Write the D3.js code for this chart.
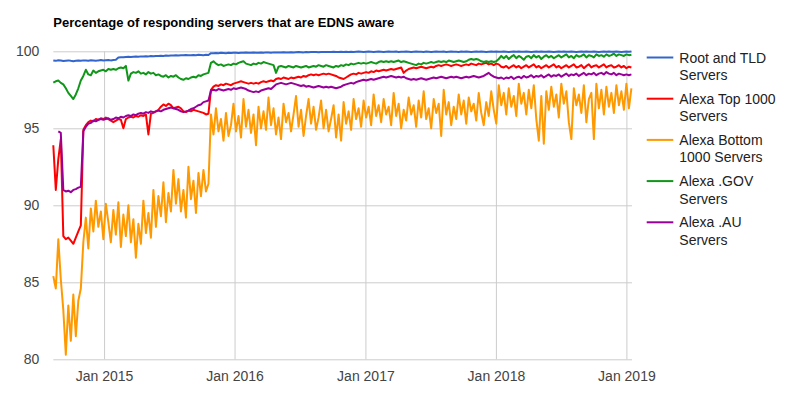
<!DOCTYPE html>
<html>
<head>
<meta charset="UTF-8">
<title>EDNS aware servers</title>
<script src="https://d3js.org/d3.v7.min.js"></script>
<style>
  body { margin: 0; background: #fff; }
  svg text { font-family: Arial, "Liberation Sans", sans-serif; }
</style>
</head>
<body>
<div id="chart"></div>
<script>
// weekly samples starting 12 Aug 2014
const startDate = Date.UTC(2014, 7, 12);

const seriesNames = ["Root and TLD Servers", "Alexa Top 1000 Servers", "Alexa Bottom 1000 Servers", "Alexa .GOV Servers", "Alexa .AU Servers"];
const legendLines = [["Root and TLD", "Servers"], ["Alexa Top 1000", "Servers"], ["Alexa Bottom", "1000 Servers"], ["Alexa .GOV", "Servers"], ["Alexa .AU", "Servers"]];
const colors = ["#3366cc", "#ff0000", "#ff9900", "#109618", "#990099"];
const yTicks = [80, 85, 90, 95, 100];
const xTickYears = [2015, 2016, 2017, 2018, 2019];

const rootTld = [
  99.40, 99.38, 99.42, 99.40, 99.37, 99.39, 99.41, 99.38, 99.36, 99.39,
  99.40, 99.38, 99.41, 99.40, 99.39, 99.42, 99.40, 99.38, 99.41, 99.43,
  99.40, 99.42, 99.44, 99.41, 99.43, 99.45, 99.60, 99.62, 99.61, 99.63,
  99.64, 99.63, 99.65, 99.66, 99.64, 99.67, 99.66, 99.68, 99.67, 99.69,
  99.68, 99.70, 99.69, 99.71, 99.70, 99.72, 99.71, 99.73, 99.72, 99.74,
  99.73, 99.75, 99.74, 99.76, 99.75, 99.74, 99.76, 99.75, 99.77, 99.76,
  99.75, 99.77, 99.76, 99.88, 99.87, 99.89, 99.88, 99.90, 99.89, 99.88,
  99.90, 99.89, 99.91, 99.90, 99.89, 99.91, 99.90, 99.92, 99.91, 99.90,
  99.92, 99.91, 99.90, 99.92, 99.91, 99.93, 99.92, 99.91, 99.93, 99.92,
  99.93, 99.92, 99.94, 99.93, 99.92, 99.94, 99.93, 99.94, 99.95, 99.94,
  99.93, 99.95, 99.94, 99.95, 99.96, 99.95, 99.94, 99.96, 99.95, 99.96,
  99.95, 99.96, 99.97, 99.96, 99.95, 99.97, 99.96, 99.97, 99.96, 99.97,
  99.96, 99.97, 99.98, 99.97, 99.96, 99.97, 99.98, 99.97, 99.96, 99.97,
  99.98, 99.97, 99.96, 99.97, 99.98, 99.97, 99.97, 99.98, 99.96, 99.97,
  99.97, 99.98, 99.97, 99.96, 99.97, 99.98, 99.97, 99.97, 99.96, 99.98,
  99.97, 99.96, 99.97, 99.98, 99.97, 99.97, 99.98, 99.96, 99.97, 99.98,
  99.97, 99.97, 99.96, 99.98, 99.97, 99.98, 99.97, 99.96, 99.97, 99.98,
  99.97, 99.98, 99.97, 99.96, 99.97, 99.98, 99.97, 99.98, 99.97, 99.97,
  99.98, 99.97, 99.96, 99.97, 99.98, 99.97, 99.98, 99.97, 99.97, 99.98,
  99.97, 99.96, 99.97, 99.98, 99.97, 99.98, 99.97, 99.97, 99.98, 99.97,
  99.96, 99.97, 99.98, 99.97, 99.98, 99.97, 99.97, 99.98, 99.97, 99.96,
  99.97, 99.98, 99.97, 99.98, 99.97, 99.97, 99.98, 99.97, 99.96, 99.97,
  99.98, 99.97, 99.98, 99.97, 99.97, 99.98, 99.97, 99.96, 99.97, 99.98,
  99.97, 99.98
];

const alexaTop = [
  93.9, 91.0, 93.0, 94.3, 88.0, 87.8, 87.9, 87.7, 87.5, 87.9,
  88.3, 88.7, 94.9, 95.2, 95.4, 95.5, 95.45, 95.6, 95.55, 95.65,
  95.6, 95.7, 95.6, 95.5, 95.4, 95.5, 95.6, 95.55, 95.0, 95.6,
  95.7, 95.75, 95.7, 95.8, 95.75, 95.85, 95.8, 95.9, 94.6, 95.95,
  96.0, 96.1, 96.2, 96.4, 96.55, 96.45, 96.6, 96.5, 96.3, 96.35,
  96.4, 96.3, 96.1, 96.05, 96.15, 96.1, 96.2, 96.15, 96.1, 96.05,
  96.0, 95.9, 95.95, 97.5, 97.7, 97.8, 97.75, 97.85, 97.8, 97.9,
  97.85, 97.8, 97.9, 97.95, 98.0, 98.05, 98.0, 97.95, 97.9, 97.95,
  97.9, 97.95, 97.9, 98.0, 98.05, 98.0, 98.05, 98.1, 98.05, 98.2,
  98.25, 98.2, 98.3, 98.25, 98.2, 98.3, 98.25, 98.3, 98.35, 98.3,
  98.4, 98.35, 98.45, 98.5, 98.45, 98.5, 98.45, 98.5, 98.55, 98.5,
  98.55, 98.5, 98.45, 98.4, 98.3, 98.25, 98.2, 98.3, 98.4, 98.5,
  98.55, 98.5, 98.6, 98.55, 98.6, 98.65, 98.6, 98.7, 98.65, 98.75,
  98.7, 98.75, 98.8, 98.75, 98.8, 98.85, 98.8, 98.85, 98.9, 98.95,
  98.6, 98.75, 98.85, 98.9, 98.95, 98.9, 98.95, 99.0, 98.95, 98.9,
  98.95, 99.0, 98.95, 99.05, 99.1, 99.05, 99.1, 99.15, 99.1, 99.05,
  99.1, 99.15, 99.1, 99.05, 99.1, 99.15, 99.1, 99.2, 99.15, 99.1,
  99.2, 99.15, 99.2, 99.25, 99.15, 99.2, 99.1, 99.2, 99.15, 99.0,
  98.95, 99.05, 98.9, 99.0, 99.1, 98.95, 99.05, 98.9, 99.0, 99.1,
  98.95, 99.05, 99.15, 98.95, 99.05, 98.9, 99.0, 99.1, 98.95, 99.05,
  99.15, 98.95, 99.05, 98.9, 99.0, 99.1, 98.95, 99.05, 99.15, 98.95,
  99.0, 99.1, 98.9, 99.05, 99.15, 98.95, 99.05, 99.1, 98.95, 99.05,
  99.15, 98.95, 99.05, 99.1, 98.95, 99.0, 99.1, 98.95, 99.05, 98.9,
  99.0, 98.95
];

const alexaBottom = [
  85.4, 84.6, 87.8, 85.2, 83.2, 80.3, 83.5, 81.2, 84.2, 81.5,
  83.8, 84.6, 87.6, 89.2, 87.2, 89.8, 88.3, 90.3, 88.6, 89.6,
  87.8, 90.1, 88.9, 87.6, 89.7, 88.1, 90.2, 87.3, 89.4, 88.0,
  90.0, 87.6, 89.1, 86.6, 88.8, 87.5, 90.3, 88.2, 89.5, 87.9,
  91.0, 88.6, 90.6, 89.3, 91.5, 88.9, 90.8, 89.6, 92.3, 90.1,
  91.7, 89.6, 91.0, 89.2, 92.5, 90.4, 91.6, 89.5, 92.1, 90.6,
  92.3, 90.9, 91.4, 95.9, 94.6, 96.3, 94.8, 95.6, 94.2, 96.0,
  94.5, 95.2, 96.6, 94.8, 95.8, 94.4, 96.9, 95.1, 96.2, 94.7,
  95.9, 93.9, 96.4, 95.0, 96.1, 94.9, 97.0, 95.2, 96.3, 94.6,
  95.7, 94.3, 96.6, 95.4, 96.0, 94.8, 95.9, 97.1, 95.1, 96.2,
  94.5, 95.8, 96.9, 95.3, 96.4, 94.9, 95.7, 96.8, 95.0, 96.2,
  94.8, 95.6, 96.5, 94.4, 95.9, 94.2, 96.7, 95.3, 96.1, 94.9,
  96.9, 95.6, 96.3, 95.1, 96.8, 95.7, 96.4, 95.2, 97.2, 95.8,
  96.5, 95.4, 96.9, 95.9, 96.4, 95.2, 97.3, 95.8, 96.6, 95.0,
  96.2, 95.5, 97.0, 95.9, 96.5, 95.1, 96.8, 95.7, 97.4, 95.6,
  96.3, 95.0, 96.9, 96.0, 96.6, 94.5, 97.5, 95.9, 96.7, 95.2,
  96.4, 95.6, 97.2, 95.9, 96.8, 95.3, 97.0, 96.1, 96.6, 95.5,
  97.3, 96.0, 95.2, 96.7, 95.8, 97.4, 96.2, 95.3, 97.8, 96.5,
  97.3, 95.9, 97.6, 96.4, 97.1, 95.8, 97.9, 96.6, 97.3, 95.9,
  97.5, 96.3, 97.8, 95.6, 94.2, 97.1, 94.0, 97.4, 96.2, 97.7,
  96.4, 97.2, 95.7, 97.9, 96.6, 97.4, 95.4, 94.3, 97.6, 96.5,
  97.2, 96.0, 97.8, 95.4, 96.9, 97.3, 94.3, 97.9, 96.3, 97.5,
  95.9, 97.7, 96.4, 97.3, 96.0, 97.8, 96.5, 97.4, 96.2, 97.9,
  96.3, 97.6
];

const alexaGov = [
  97.96, 98.05, 98.1, 97.95, 97.85, 97.6, 97.3, 97.1, 96.9, 97.2,
  97.6, 98.1, 98.4, 98.8, 98.5, 98.45, 98.75, 98.6, 98.7, 98.75,
  98.8, 98.7, 98.85, 98.8, 98.85, 98.8, 98.9, 98.95, 98.9, 99.05,
  98.1, 98.55, 98.65, 98.6, 98.7, 98.55, 98.6, 98.5, 98.65, 98.55,
  98.6, 98.45, 98.5, 98.4, 98.35, 98.45, 98.3, 98.4, 98.35, 98.45,
  98.3, 98.2, 98.15, 98.25, 98.2, 98.3, 98.35, 98.3, 98.45, 98.4,
  98.5, 98.55, 98.6, 99.25, 99.35, 99.2, 99.1, 99.15, 99.05, 99.1,
  99.15, 99.1, 99.2, 99.15, 99.25, 99.3, 99.35, 99.2, 99.15, 99.1,
  99.2, 99.15, 99.25, 99.2, 99.3, 99.25, 99.2, 99.15, 99.1, 98.6,
  99.0, 99.05, 99.0, 98.95, 99.05, 99.0, 98.95, 99.05, 99.0, 98.95,
  99.0, 99.05, 98.95, 99.0, 99.05, 99.0, 99.1, 99.05, 99.0, 99.1,
  99.05, 99.0, 98.95, 99.05, 99.0, 99.1, 99.05, 99.15, 99.1, 99.2,
  99.15, 99.2, 99.25, 99.2, 99.25, 99.2, 99.25, 99.3, 99.25, 99.2,
  99.3, 99.35, 99.3, 99.35, 99.3, 99.35, 99.3, 99.35, 99.4, 99.3,
  99.35, 99.3, 99.25, 99.2, 99.15, 99.1, 99.2, 99.15, 99.25, 99.2,
  99.25, 99.3, 99.25, 99.3, 99.35, 99.3, 99.35, 99.3, 99.4, 99.35,
  99.3, 99.35, 99.4, 99.35, 99.3, 99.35, 99.45, 99.5, 99.45, 99.5,
  99.45, 99.35, 99.3, 99.35, 99.3, 99.35, 99.3, 99.35, 99.5, 99.7,
  99.55, 99.7, 99.5, 99.65, 99.75, 99.55, 99.7, 99.6, 99.45, 99.65,
  99.7, 99.55, 99.75, 99.6, 99.7, 99.5, 99.65, 99.75, 99.6, 99.7,
  99.55, 99.65, 99.75, 99.6, 99.7, 99.8, 99.6, 99.7, 99.55, 99.75,
  99.65, 99.7, 99.8, 99.6, 99.75, 99.7, 99.6, 99.8, 99.7, 99.75,
  99.65, 99.8, 99.7, 99.75, 99.85, 99.7, 99.8, 99.75, 99.7, 99.8,
  99.75, 99.78
];

const alexaAu = [
  null, null, 94.8, 94.7, 91.0, 90.9, 90.95, 90.85, 91.0, 91.05,
  91.15, 91.2, 94.8, 95.1, 95.3, 95.35, 95.5, 95.45, 95.55, 95.6,
  95.55, 95.6, 95.65, 95.55, 95.6, 95.7, 95.65, 95.75, 95.7, 95.8,
  95.85, 95.8, 95.9, 95.85, 95.95, 96.0, 95.95, 96.05, 96.0, 96.1,
  96.05, 96.1, 96.15, 96.1, 96.2, 96.25, 96.3, 96.35, 96.3, 96.25,
  96.2, 96.1, 96.05, 96.1, 96.15, 96.25, 96.3, 96.4, 96.5, 96.55,
  96.7, 96.75, 96.8, 97.45, 97.5, 97.45, 97.55, 97.5, 97.45, 97.5,
  97.55, 97.5, 97.6, 97.55, 97.6, 97.65, 97.6, 97.55, 97.45, 97.4,
  97.35, 97.4, 97.35, 97.45, 97.5, 97.55, 97.6, 97.55, 97.7, 97.85,
  97.9, 97.95, 97.9, 97.85, 97.9, 97.95, 97.9, 97.85, 97.8, 97.75,
  97.8, 97.7, 97.75, 97.7, 97.65, 97.7, 97.75, 97.7, 97.65, 97.7,
  97.65, 97.7, 97.65, 97.6, 97.65, 97.7, 97.8, 97.85, 97.9, 97.95,
  97.9, 98.0, 98.05, 98.1, 98.15, 98.1, 98.15, 98.2, 98.15, 98.2,
  98.25, 98.3, 98.35, 98.3, 98.35, 98.4, 98.35, 98.3, 98.35, 98.3,
  98.35, 98.25, 98.2, 98.15, 98.2, 98.15, 98.2, 98.25, 98.2, 98.15,
  98.2, 98.25, 98.3, 98.25, 98.3, 98.35, 98.3, 98.25, 98.3, 98.35,
  98.3, 98.35, 98.3, 98.25, 98.3, 98.35, 98.3, 98.35, 98.4, 98.35,
  98.3, 98.35, 98.4, 98.5, 98.6, 98.45, 98.35, 98.3, 98.25, 98.3,
  98.2, 98.3, 98.25, 98.35, 98.2, 98.3, 98.35, 98.25, 98.4, 98.3,
  98.35, 98.45, 98.3, 98.4, 98.35, 98.45, 98.3, 98.4, 98.5, 98.35,
  98.45, 98.4, 98.5, 98.35, 98.45, 98.55, 98.4, 98.5, 98.45, 98.55,
  98.4, 98.5, 98.6, 98.45, 98.55, 98.5, 98.6, 98.45, 98.55, 98.6,
  98.5, 98.65, 98.55, 98.5, 98.6, 98.45, 98.55, 98.5, 98.45, 98.5,
  98.45, 98.5
];

const allSeries = [rootTld, alexaTop, alexaBottom, alexaGov, alexaAu];

const width = 786, height = 399;
const margin = { top: 51.3, right: 154.6, bottom: 39.7, left: 53.3 };

const dates = d3.utcDay.range(new Date(startDate), new Date(Date.UTC(2019, 0, 20)), 7).slice(0, rootTld.length);

const svg = d3.select("#chart").append("svg")
  .attr("width", width)
  .attr("height", height);

const x = d3.scaleUtc()
  .domain([dates[0], dates[dates.length - 1]])
  .range([margin.left, width - margin.right]);

const y = d3.scaleLinear()
  .domain([80, 100])
  .range([height - margin.bottom, margin.top]);

// title
svg.append("text")
  .attr("x", 53.3)
  .attr("y", 26.5)
  .attr("font-size", 13)
  .attr("font-weight", "bold")
  .attr("fill", "#000")
  .text("Percentage of responding servers that are EDNS aware");

// horizontal grid + y labels
const yAxis = svg.append("g")
  .attr("transform", `translate(${margin.left},0)`)
  .call(d3.axisLeft(y).tickValues(yTicks).tickSize(-(width - margin.left - margin.right + 0.6)).tickPadding(14).tickFormat(d3.format("d")));
yAxis.select(".domain").remove();
yAxis.selectAll("line").attr("stroke", "#cccccc");
yAxis.selectAll("text").attr("font-size", 14).attr("fill", "#444").attr("font-family", null);

// vertical grid + x labels
const xTicks = xTickYears.map(yr => new Date(Date.UTC(yr, 0, 1)));
const xAxis = svg.append("g")
  .attr("transform", `translate(0,${height - margin.bottom})`)
  .call(d3.axisBottom(x).tickValues(xTicks).tickSize(-(height - margin.top - margin.bottom)).tickPadding(12).tickFormat(d3.utcFormat("%b %Y")));
xAxis.select(".domain").remove();
xAxis.selectAll("line").attr("stroke", "#cccccc");
xAxis.selectAll("text").attr("font-size", 14).attr("fill", "#444").attr("font-family", null);

// lines
const line = d3.line()
  .defined(d => d.v != null)
  .x(d => x(d.date))
  .y(d => y(d.v));

allSeries.forEach((vals, k) => {
  const pts = vals.map((v, i) => ({ date: dates[i], v: v }));
  svg.append("path")
    .datum(pts)
    .attr("fill", "none")
    .attr("stroke", colors[k])
    .attr("stroke-width", 2)
    .attr("stroke-linejoin", "round")
    .attr("d", line);
});

// legend
const legend = svg.append("g");
legendLines.forEach((lines, k) => {
  const ly = 57.5 + k * 41.2;
  legend.append("line")
    .attr("x1", 646.7).attr("x2", 673.3)
    .attr("y1", ly).attr("y2", ly)
    .attr("stroke", colors[k])
    .attr("stroke-width", 2);
  lines.forEach((t, j) => {
    legend.append("text")
      .attr("x", 679.3)
      .attr("y", ly + 5 + j * 17.5)
      .attr("font-size", 14)
      .attr("fill", "#222")
      .text(t);
  });
});
</script>
</body>
</html>
